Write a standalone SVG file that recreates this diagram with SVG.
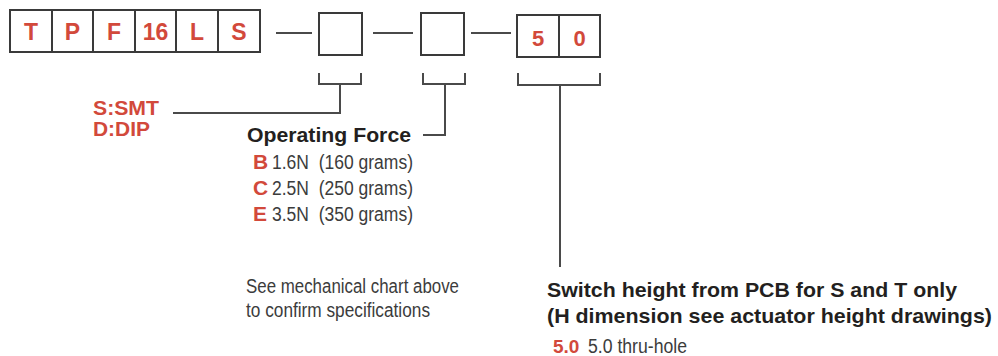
<svg xmlns="http://www.w3.org/2000/svg" width="998" height="356" viewBox="0 0 998 356">
<style>
.box{fill:#fff;stroke:#3a3a3a;stroke-width:2}
.ln{fill:none;stroke:#4a4a4a;stroke-width:2}
.red{font-family:"Liberation Sans",Arial,sans-serif;font-weight:bold;fill:#d2493b}
.bold{font-family:"Liberation Sans",Arial,sans-serif;font-weight:bold;fill:#231f20}
.reg{font-family:"Liberation Sans",Arial,sans-serif;fill:#3c3c3c;white-space:pre}
</style>
<rect width="998" height="356" fill="#fff"/>
<g id="code-prefix">
<rect class="box" x="10" y="10" width="42" height="42"/>
<rect class="box" x="52" y="10" width="41" height="42"/>
<rect class="box" x="93" y="10" width="42" height="42"/>
<rect class="box" x="135" y="10" width="41" height="42"/>
<rect class="box" x="176" y="10" width="42" height="42"/>
<rect class="box" x="218" y="10" width="42" height="42"/>
<g class="red" font-size="23" text-anchor="middle">
<text x="31" y="40">T</text>
<text x="72.5" y="40">P</text>
<text x="114" y="40">F</text>
<text x="155.5" y="40">16</text>
<text x="197" y="40">L</text>
<text x="239" y="40">S</text>
</g>
</g>
<g id="box-type">
<rect class="box" x="319" y="13" width="43" height="42"/>
</g>
<g id="box-force">
<rect class="box" x="421" y="13" width="43" height="42"/>
</g>
<g id="box-height">
<rect class="box" x="517" y="15" width="42" height="42"/>
<rect class="box" x="559" y="15" width="41" height="42"/>
<g class="red" font-size="22" text-anchor="middle">
<text x="538" y="46">5</text>
<text x="579.5" y="46">0</text>
</g>
</g>
<g id="connectors">
<path class="ln" d="M276 33H312M373 33H413M471 33H511"/>
<path class="ln" d="M319 73V84H361V73M340 84V113H173"/>
<path class="ln" d="M423 73V84H465V73M445 84V135H423"/>
<path class="ln" d="M518 73V85H600V73M560 85V267"/>
</g>
<g id="type-label">
<text class="red" x="93" y="115" font-size="21" textLength="66" lengthAdjust="spacingAndGlyphs">S:SMT</text>
<text class="red" x="93" y="136" font-size="21" textLength="57" lengthAdjust="spacingAndGlyphs">D:DIP</text>
</g>
<g id="force-label">
<text class="bold" x="247" y="142" font-size="21" textLength="164" lengthAdjust="spacingAndGlyphs">Operating Force</text>
<text class="red" x="253" y="169" font-size="21">B</text>
<text class="reg" x="272" y="169" font-size="20" textLength="141" lengthAdjust="spacingAndGlyphs" xml:space="preserve">1.6N  (160 grams)</text>
<text class="red" x="253" y="195" font-size="21">C</text>
<text class="reg" x="272" y="195" font-size="20" textLength="141" lengthAdjust="spacingAndGlyphs" xml:space="preserve">2.5N  (250 grams)</text>
<text class="red" x="253" y="221" font-size="21">E</text>
<text class="reg" x="272" y="221" font-size="20" textLength="141" lengthAdjust="spacingAndGlyphs" xml:space="preserve">3.5N  (350 grams)</text>
</g>
<g id="note">
<text class="reg" x="246" y="293" font-size="20" textLength="213" lengthAdjust="spacingAndGlyphs">See mechanical chart above</text>
<text class="reg" x="246" y="317" font-size="20" textLength="184" lengthAdjust="spacingAndGlyphs">to confirm specifications</text>
</g>
<g id="height-label">
<text class="bold" x="547" y="297" font-size="21" textLength="410" lengthAdjust="spacingAndGlyphs">Switch height from PCB for S and T only</text>
<text class="bold" x="547" y="323" font-size="21" textLength="445" lengthAdjust="spacingAndGlyphs">(H dimension see actuator height drawings)</text>
<text class="red" x="553" y="353" font-size="19">5.0</text>
<text class="reg" x="588" y="353" font-size="20" textLength="99" lengthAdjust="spacingAndGlyphs">5.0 thru-hole</text>
</g>
</svg>
